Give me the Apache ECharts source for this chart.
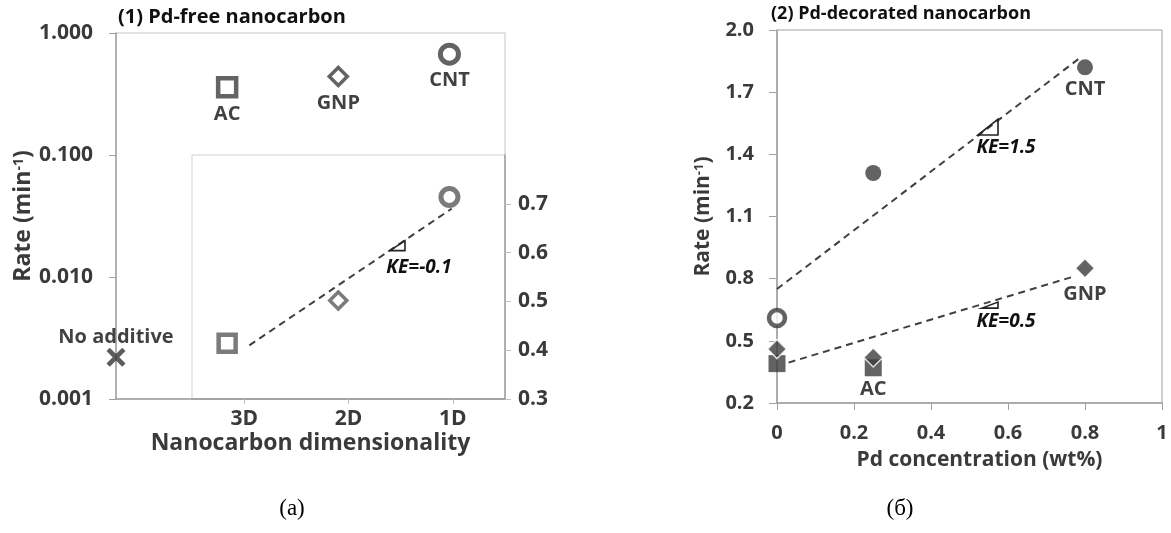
<!DOCTYPE html>
<html><head><meta charset="utf-8">
<script src="https://cdn.jsdelivr.net/npm/echarts@6/dist/echarts.min.js"></script>
<style>html,body{margin:0;padding:0;background:#fff;}#c{width:1171px;height:533px;}</style>
</head><body><div id="c"></div>
<script>
// ---------- Panel (1): Pd-free nanocarbon ----------
const freeNames = ['No additive', 'AC', 'GNP', 'CNT'];
const freeX     = [0, 1, 2, 3];
const freeRate  = [0.0022, 0.36, 0.44, 0.67];

const dimCats   = ['3D', '2D', '1D'];
const dimX      = [1, 2, 3];
const dimKE     = [0.414, 0.502, 0.714];
const dimFitX   = [1.2, 3.02];
const dimFitY   = [0.41, 0.69];

// ---------- Panel (2): Pd-decorated nanocarbon ----------
const cntConc   = [0.25, 0.8];
const cntRate   = [1.31, 1.82];
const cnt0Conc  = [0];
const cnt0Rate  = [0.61];
const gnpConc   = [0, 0.25, 0.8];
const gnpRate   = [0.46, 0.42, 0.85];
const acConc    = [0, 0.25];
const acRate    = [0.39, 0.37];
const cntFitX   = [0, 0.79];
const cntFitY   = [0.75, 1.87];
const gnpFitX   = [0.03, 0.77];
const gnpFitY   = [0.395, 0.81];

// slope annotations
const keText = ['KE=-0.1', 'KE=1.5', 'KE=0.5'];
const keAtX  = [2.6, 0.574, 0.574];
const keAtY  = [0.604, 1.493, 0.658];

const RATE_BASE = 0.2;   // bottom of panel (2) rate axis
const FONT = 'Open Sans';
const AX = '#a0a0a0';
const TXT = '#3a3a3a';
const MK = '#3c3c3c';

const pairs = (xs, ys, off) => xs.map((x, i) => [x, ys[i] - (off || 0)]);

const tickL = {fontFamily: FONT, fontWeight: 'bold', fontSize: 21, color: TXT};
const tickR = {fontFamily: FONT, fontWeight: 'bold', fontSize: 20, color: TXT};
function nameStyle(size) {
  return {fontFamily: FONT, fontWeight: 'bold', fontSize: size, color: TXT,
    rich: {sup: {fontFamily: FONT, fontWeight: 'bold', fontSize: Math.round(size * 0.62), color: TXT, verticalAlign: 'top'}}};
}
const ptLabel = {show: true, formatter: '{b}', fontFamily: FONT, fontWeight: 'bold', fontSize: 20, color: '#111'};

const crossPath = 'path://M3.5,0 L10,6.5 L16.5,0 L20,3.5 L13.5,10 L20,16.5 L16.5,20 L10,13.5 L3.5,20 L0,16.5 L6.5,10 L0,3.5 Z';
const freeSym = ['x', 'rect', 'diamond', 'circle'];
function freeItem(i) {
  const s = freeSym[i];
  const base = {name: freeNames[i], value: [freeX[i], freeRate[i]]};
  if (s === 'x') return Object.assign(base, {symbol: crossPath, symbolSize: 19, itemStyle: {color: '#333'},
    label: Object.assign({}, ptLabel, {position: 'top', distance: 0})});
  if (s === 'rect') return Object.assign(base, {symbol: 'rect', symbolSize: 18, itemStyle: {color: '#fff', borderColor: MK, borderWidth: 4.5},
    label: Object.assign({}, ptLabel, {position: 'bottom', distance: 6})});
  if (s === 'diamond') return Object.assign(base, {symbol: 'diamond', symbolSize: 18, itemStyle: {color: '#fff', borderColor: MK, borderWidth: 3.5},
    label: Object.assign({}, ptLabel, {position: 'bottom', distance: 6})});
  return Object.assign(base, {symbol: 'circle', symbolSize: 18, itemStyle: {color: '#fff', borderColor: MK, borderWidth: 5},
    label: Object.assign({}, ptLabel, {position: 'bottom', distance: 5})});
}
const dimSym = ['rect', 'diamond', 'circle'];
const dimBW = [4.5, 3.5, 5];
function dimItem(i) {
  return {name: dimCats[i], value: [dimX[i], dimKE[i]], symbol: dimSym[i], symbolSize: 17,
    itemStyle: {color: '#fff', borderColor: '#5a5a5a', borderWidth: dimBW[i]}};
}

function slopeSeries(k, xi, yi, w, h, tdx, tdy, off) {
  return {
    type: 'custom', xAxisIndex: xi, yAxisIndex: yi, z: 5,
    data: [[keAtX[k], keAtY[k] - (off || 0)]],
    renderItem: function (params, api) {
      const p = api.coord([api.value(0), api.value(1)]);
      return {type: 'group', children: [
        {type: 'polygon', shape: {points: [[p[0] - w, p[1]], [p[0], p[1]], [p[0], p[1] - h]]},
         style: {fill: 'none', stroke: '#222', lineWidth: 1.6}},
        {type: 'text', x: p[0] + tdx, y: p[1] + tdy,
         style: {text: keText[k], fontFamily: FONT, fontWeight: 'bold', fontStyle: 'italic', fontSize: 19,
                 fill: '#111', align: 'center', verticalAlign: 'middle'}}
      ]};
    }
  };
}
const dash = {type: [7, 5], width: 2, color: '#404040'};

const chart = echarts.init(document.getElementById('c'));
chart.setOption({
  backgroundColor: '#fff',
  animation: false,
  title: [
    {text: '(1) Pd-free nanocarbon', left: 118, top: 7, padding: 0,
     textStyle: {fontFamily: FONT, fontWeight: 'bold', fontSize: 20, color: '#111'}},
    {text: '(2) Pd-decorated nanocarbon', left: 771, top: 5, padding: 0,
     textStyle: {fontFamily: FONT, fontWeight: 'bold', fontSize: 18, color: '#111'}}
  ],
  grid: [
    {left: 116, top: 33, width: 389, height: 366, show: true, borderColor: '#c4c4c4', borderWidth: 1, backgroundColor: 'transparent'},
    {left: 192, top: 155, width: 313, height: 244, show: true, borderColor: '#d0d0d0', borderWidth: 1, backgroundColor: '#fff'},
    {left: 116, top: 155, width: 389, height: 244, show: false},
    {left: 777, top: 30, width: 385, height: 373, show: true, borderColor: '#a0a0a0', borderWidth: 1, backgroundColor: 'transparent'}
  ],
  xAxis: [
    {gridIndex: 0, type: 'value', min: 0, max: 3.5,
     axisLine: {show: true, lineStyle: {color: AX, width: 1.5}}, axisTick: {show: false}, axisLabel: {show: false}, splitLine: {show: false},
     name: 'Nanocarbon dimensionality', nameLocation: 'middle', nameGap: 33, nameTextStyle: nameStyle(23)},
    {gridIndex: 1, type: 'category', data: dimCats, boundaryGap: true,
     axisLine: {show: true, lineStyle: {color: AX, width: 1.5}},
     axisTick: {show: true, alignWithLabel: true, length: 5, lineStyle: {color: '#c0c0c0'}},
     axisLabel: Object.assign({margin: 10}, tickL), splitLine: {show: false}},
    {gridIndex: 2, type: 'value', min: 0, max: 3.5, show: false},
    {gridIndex: 3, type: 'value', min: 0, max: 1, interval: 0.2,
     axisLine: {show: true, lineStyle: {color: AX, width: 1.5}},
     axisTick: {show: true, length: 7, lineStyle: {color: AX}},
     axisLabel: Object.assign({margin: 20, formatter: v => (v === 0 ? '0' : v === 1 ? '1' : v.toFixed(1))}, tickR),
     splitLine: {show: false},
     name: 'Pd concentration (wt%)', nameLocation: 'middle', nameGap: 47,
     nameTextStyle: Object.assign(nameStyle(21), {padding: [0, 0, 0, 20]})}
  ],
  yAxis: [
    {gridIndex: 0, type: 'log', logBase: 10, min: 0.001, max: 1, splitNumber: 3,
     axisLine: {show: true, lineStyle: {color: AX, width: 1.5}},
     axisTick: {show: true, length: 7, lineStyle: {color: AX}},
     axisLabel: Object.assign({margin: 23, formatter: v => Number(v).toFixed(3)}, tickL),
     splitLine: {show: false}, minorTick: {show: false},
     name: 'Rate (min{sup|-1})', nameLocation: 'middle', nameGap: 80, nameTextStyle: nameStyle(23)},
    {gridIndex: 1, type: 'value', position: 'right', min: 0.3, max: 0.8, interval: 0.1,
     axisLine: {show: true, lineStyle: {color: AX, width: 1.5}},
     axisTick: {show: true, length: 6, lineStyle: {color: '#c0c0c0'}},
     axisLabel: Object.assign({margin: 13, showMaxLabel: false, formatter: v => v.toFixed(1)}, tickL),
     splitLine: {show: false}},
    {gridIndex: 2, type: 'value', min: 0.3, max: 0.8, show: false},
    {gridIndex: 3, type: 'value', min: 0, max: 1.8, interval: 0.3,
     axisLine: {show: true, lineStyle: {color: AX, width: 1.5}},
     axisTick: {show: true, length: 8, lineStyle: {color: AX}},
     axisLabel: Object.assign({margin: 23, formatter: v => (v + RATE_BASE).toFixed(1)}, tickR),
     splitLine: {show: false},
     name: 'Rate (min{sup|-1})', nameLocation: 'middle', nameGap: 63, nameTextStyle: nameStyle(21)}
  ],
  series: [
    {type: 'scatter', xAxisIndex: 0, yAxisIndex: 0, z: 4, data: freeNames.map((_, i) => freeItem(i))},
    {type: 'line', xAxisIndex: 2, yAxisIndex: 2, z: 3, symbol: 'none', lineStyle: dash, data: pairs(dimFitX, dimFitY)},
    {type: 'scatter', xAxisIndex: 2, yAxisIndex: 2, z: 4, data: dimCats.map((_, i) => dimItem(i))},
    slopeSeries(0, 2, 2, 15, 10, 14, 17),

    {type: 'line', xAxisIndex: 3, yAxisIndex: 3, z: 3, symbol: 'none', lineStyle: dash, data: pairs(cntFitX, cntFitY, RATE_BASE)},
    {type: 'line', xAxisIndex: 3, yAxisIndex: 3, z: 3, symbol: 'none', lineStyle: dash, data: pairs(gnpFitX, gnpFitY, RATE_BASE)},
    {type: 'scatter', xAxisIndex: 3, yAxisIndex: 3, z: 4, symbol: 'rect', symbolSize: 17,
     itemStyle: {color: MK},
     data: acConc.map((x, i) => ({name: 'AC', value: [x, acRate[i] - RATE_BASE],
       label: Object.assign({}, ptLabel, {show: x > 0, position: 'bottom', distance: 3})}))},
    {type: 'scatter', xAxisIndex: 3, yAxisIndex: 3, z: 5, symbol: 'diamond', symbolSize: 19,
     itemStyle: {color: MK, borderColor: '#fff', borderWidth: 1.5},
     data: gnpConc.map((x, i) => ({name: 'GNP', value: [x, gnpRate[i] - RATE_BASE],
       label: Object.assign({}, ptLabel, {show: x > 0.5, position: 'bottom', distance: 6})}))},
    {type: 'scatter', xAxisIndex: 3, yAxisIndex: 3, z: 4, symbol: 'circle', symbolSize: 16,
     itemStyle: {color: MK},
     data: cntConc.map((x, i) => ({name: 'CNT', value: [x, cntRate[i] - RATE_BASE],
       label: Object.assign({}, ptLabel, {show: x > 0.5, position: 'bottom', distance: 4})}))},
    {type: 'scatter', xAxisIndex: 3, yAxisIndex: 3, z: 4, symbol: 'circle', symbolSize: 16,
     itemStyle: {color: '#fff', borderColor: MK, borderWidth: 4.5},
     data: pairs(cnt0Conc, cnt0Rate, RATE_BASE)},
    slopeSeries(1, 3, 3, 20, 16, 8, 13, RATE_BASE),
    slopeSeries(2, 3, 3, 16, 6, 8, 14, RATE_BASE)
  ],
  graphic: [
    {type: 'text', x: 292, y: 509, style: {text: '(a)', fontFamily: 'Liberation Serif', fontSize: 23, fill: '#000', align: 'center', verticalAlign: 'middle'}},
    {type: 'text', x: 900, y: 509, style: {text: '(б)', fontFamily: 'Liberation Serif', fontSize: 23, fill: '#000', align: 'center', verticalAlign: 'middle'}}
  ]
});
</script>
</body></html>
